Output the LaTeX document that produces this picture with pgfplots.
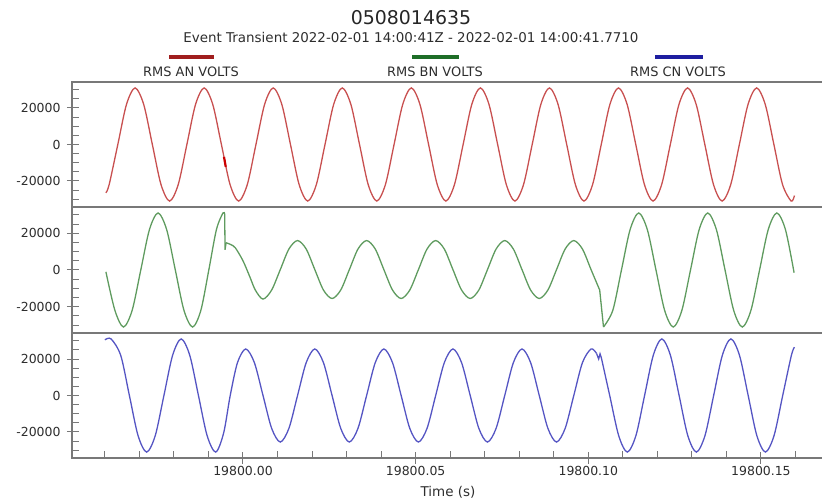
\documentclass[border=0pt]{standalone}
\usepackage{fontspec}
\setmainfont{DejaVu Sans}
\usepackage{pgfplots}
\pgfplotsset{compat=1.18}
\definecolor{cA}{RGB}{200,80,80}
\definecolor{cB}{RGB}{95,155,95}
\definecolor{cC}{RGB}{85,85,195}
\definecolor{lA}{RGB}{160,30,30}
\definecolor{lB}{RGB}{30,110,40}
\definecolor{lC}{RGB}{30,30,160}
\definecolor{axgray}{RGB}{120,120,120}
\definecolor{labgray}{RGB}{45,45,45}
\newcommand\ticksfont{\fontsize{12.5}{14}\selectfont}
\pgfplotsset{
  panel/.style={
    scale only axis, width=752bp, anchor=south west,
    xmin=-49.52, xmax=168.26, ymin=-34250, ymax=34250,
    axis line style={draw=axgray, line width=1.3bp},
    ytick={-20000,0,20000},
    minor ytick={-30000,-25000,-15000,-10000,-5000,5000,10000,15000,25000,30000},
    ytick pos=left, xtick pos=left,
    scaled y ticks=false,
    tick align=inside,
    major tick length=12bp, minor tick length=7bp,
    major x tick style={yshift=-6bp},
    major y tick style={xshift=-5bp},
    tick style={draw=axgray, line width=1bp},
    yticklabel style={font=\ticksfont, text=labgray, xshift=-8bp},
    xticklabel style={font=\ticksfont, text=labgray, yshift=-5bp},
    /pgf/number format/assume math mode=true,
    /pgf/number format/1000 sep={},
  },
  wave/.style={line width=1.3bp, smooth, mark=none},
}
\begin{document}
\begin{tikzpicture}
\path[use as bounding box] (0,0) rectangle (822bp,502bp);
\node[font=\fontsize{19}{22}\selectfont, text=black!85] at (411bp,484bp) {0508014635};
\node[font=\fontsize{13.5}{16}\selectfont, text=labgray] at (411bp,465bp) {Event Transient 2022-02-01 14:00:41Z - 2022-02-01 14:00:41.7710};
\draw[lA, line width=4bp] (169bp,445bp) -- (214bp,445bp);
\draw[lB, line width=4bp] (412bp,445bp) -- (459bp,445bp);
\draw[lC, line width=4bp] (655bp,445bp) -- (703bp,445bp);
\node[font=\fontsize{13}{15}\selectfont, text=labgray] at (191bp,430bp) {RMS AN VOLTS};
\node[font=\fontsize{13}{15}\selectfont, text=labgray] at (435bp,430bp) {RMS BN VOLTS};
\node[font=\fontsize{13}{15}\selectfont, text=labgray] at (678bp,430bp) {RMS CN VOLTS};

% Panel A
\begin{axis}[panel, at={(72bp,295bp)}, height=125bp, xtick=\empty]
\addplot[wave, cA] coordinates {
(-39.7,-26500) (-38.75,-21920) (-36.25,0) (-33.75,21920) (-31.25,31000) (-28.75,21920)
(-26.25,0) (-23.75,-21920) (-21.25,-31000) (-18.75,-21920) (-16.25,0) (-13.75,21920)
(-11.25,31000) (-8.75,21920) (-6.25,0) (-3.75,-21920) (-1.25,-31000) (1.25,-21920)
(3.75,0) (6.25,21920) (8.75,31000) (11.25,21920) (13.75,0) (16.25,-21920)
(18.75,-31000) (21.25,-21920) (23.75,0) (26.25,21920) (28.75,31000) (31.25,21920)
(33.75,0) (36.25,-21920) (38.75,-31000) (41.25,-21920) (43.75,0) (46.25,21920)
(48.75,31000) (51.25,21920) (53.75,0) (56.25,-21920) (58.75,-31000) (61.25,-21920)
(63.75,0) (66.25,21920) (68.75,31000) (71.25,21920) (73.75,0) (76.25,-21920)
(78.75,-31000) (81.25,-21920) (83.75,0) (86.25,21920) (88.75,31000) (91.25,21920)
(93.75,0) (96.25,-21920) (98.75,-31000) (101.25,-21920) (103.75,0) (106.25,21920)
(108.75,31000) (111.25,21920) (113.75,0) (116.25,-21920) (118.75,-31000) (121.25,-21920)
(123.75,0) (126.25,21920) (128.75,31000) (131.25,21920) (133.75,0) (136.25,-21920)
(138.75,-31000) (141.25,-21920) (143.75,0) (146.25,21920) (148.75,31000) (151.25,21920)
(153.75,0) (156.25,-21920) (158.75,-31000) (159.7,-28000)
};
\addplot[color=red!80!black, line width=2.2bp, mark=none] coordinates {(-5.5,-6800) (-5.0,-12200)};
\end{axis}

% Panel B
\begin{axis}[panel, at={(72bp,169bp)}, height=126bp, xtick=\empty]
\addplot[wave, cB] coordinates {
(-39.7,-1000) (-37.1,-21920) (-34.6,-31000) (-32.1,-21920) (-29.6,0) (-27.1,21920)
(-24.6,31000) (-22.1,21920) (-19.6,0) (-17.1,-21920) (-14.6,-31000) (-12.2,-21920)
(-9.9,0) (-7.7,21920) (-5.8,31000) (-5.3,30500)
};
\addplot[cB, line width=1.3bp, mark=none] coordinates {(-5.3,30500) (-5.2,11000) (-4.9,14800)};
\addplot[wave, cB] coordinates {
(-4.9,14800) (-3.5,13800) (-2.2,12000) (0,5000) (2.0,-3800) (3.6,-11000) (5.8,-15800)
(8.3,-10900) (10.8,200) (13.3,11400) (15.8,16000) (18.3,11400) (20.8,200) (23.3,-10900)
(25.8,-15500) (28.3,-10900) (30.8,200) (33.3,11400) (35.8,16000) (38.3,11400) (40.8,200)
(43.3,-10900) (45.8,-15500) (48.3,-10900) (50.8,200) (53.3,11400) (55.8,16000) (58.3,11400)
(60.8,200) (63.3,-10900) (65.8,-15500) (68.3,-10900) (70.8,200) (73.3,11400) (75.8,16000)
(78.3,11400) (80.8,200) (83.3,-10900) (85.8,-15500) (88.3,-10900) (90.8,200) (93.3,11400)
(95.8,16000) (98.3,11400) (100.8,200) (103.3,-10900)
};
\addplot[cB, line width=1.3bp, mark=none] coordinates {(103.3,-10900) (104.4,-31000)};
\addplot[wave, cB] coordinates {
(104.4,-31000) (107.1,-21920) (109.6,0) (112.1,21920) (114.6,31000) (117.1,21920)
(119.6,0) (122.1,-21920) (124.6,-31000) (127.1,-21920) (129.6,0) (132.1,21920)
(134.6,31000) (137.1,21920) (139.6,0) (142.1,-21920) (144.6,-31000) (147.1,-21920)
(149.6,0) (152.1,21920) (154.6,31000) (157.1,21920) (159.6,-1500)
};
\end{axis}

% Panel C
\begin{axis}[panel, at={(72bp,44bp)}, height=125bp,
  xtick={0,50,100,150},
  xticklabels={19800.00,19800.05,19800.10,19800.15},
  minor xtick={-40,-30,-20,-10,10,20,30,40,60,70,80,90,110,120,130,140,160},
  xlabel={Time (s)},
  xlabel style={font=\fontsize{13.5}{16}\selectfont, text=labgray, yshift=-4bp}]
\addplot[wave, cC] coordinates {
(-40.0,30500) (-38.2,31000) (-35.4,21920) (-32.9,0) (-30.4,-21920) (-27.9,-31000)
(-25.4,-21920) (-22.9,0) (-20.4,21920) (-17.9,31000) (-15.4,21920) (-12.9,0)
(-10.4,-21920) (-7.9,-31000) (-5.6,-20500) (-3.7,0) (-1.6,18000) (0.8,25500)
(3.3,18000) (5.8,0) (8.3,-18000) (10.8,-25500) (13.3,-18000) (15.8,0) (18.3,18000)
(20.8,25500) (23.3,18000) (25.8,0) (28.3,-18000) (30.8,-25500) (33.3,-18000) (35.8,0)
(38.3,18000) (40.8,25500) (43.3,18000) (45.8,0) (48.3,-18000) (50.8,-25500) (53.3,-18000)
(55.8,0) (58.3,18000) (60.8,25500) (63.3,18000) (65.8,0) (68.3,-18000) (70.8,-25500)
(73.3,-18000) (75.8,0) (78.3,18000) (80.8,25500) (83.3,18000) (85.8,0) (88.3,-18000)
(90.8,-25500) (93.3,-18000) (95.8,0) (98.3,18000) (100.8,25500) (102.4,23000)
};
\addplot[cC, line width=1.3bp, mark=none] coordinates {(102.4,23000) (103.0,20000) (103.4,22800) (103.8,20500)};
\addplot[wave, cC] coordinates {
(103.8,20500) (106.2,0) (108.8,-22000) (111.3,-31000) (113.8,-21920) (116.3,0)
(118.8,21920) (121.3,31000) (123.8,21920) (126.3,0) (128.8,-21920) (131.3,-31000)
(133.8,-21920) (136.3,0) (138.8,21920) (141.3,31000) (143.8,21920) (146.3,0)
(148.8,-21920) (151.3,-31000) (153.8,-21920) (156.3,0) (158.8,21920) (159.7,26500)
};
\end{axis}
\end{tikzpicture}
\end{document}
